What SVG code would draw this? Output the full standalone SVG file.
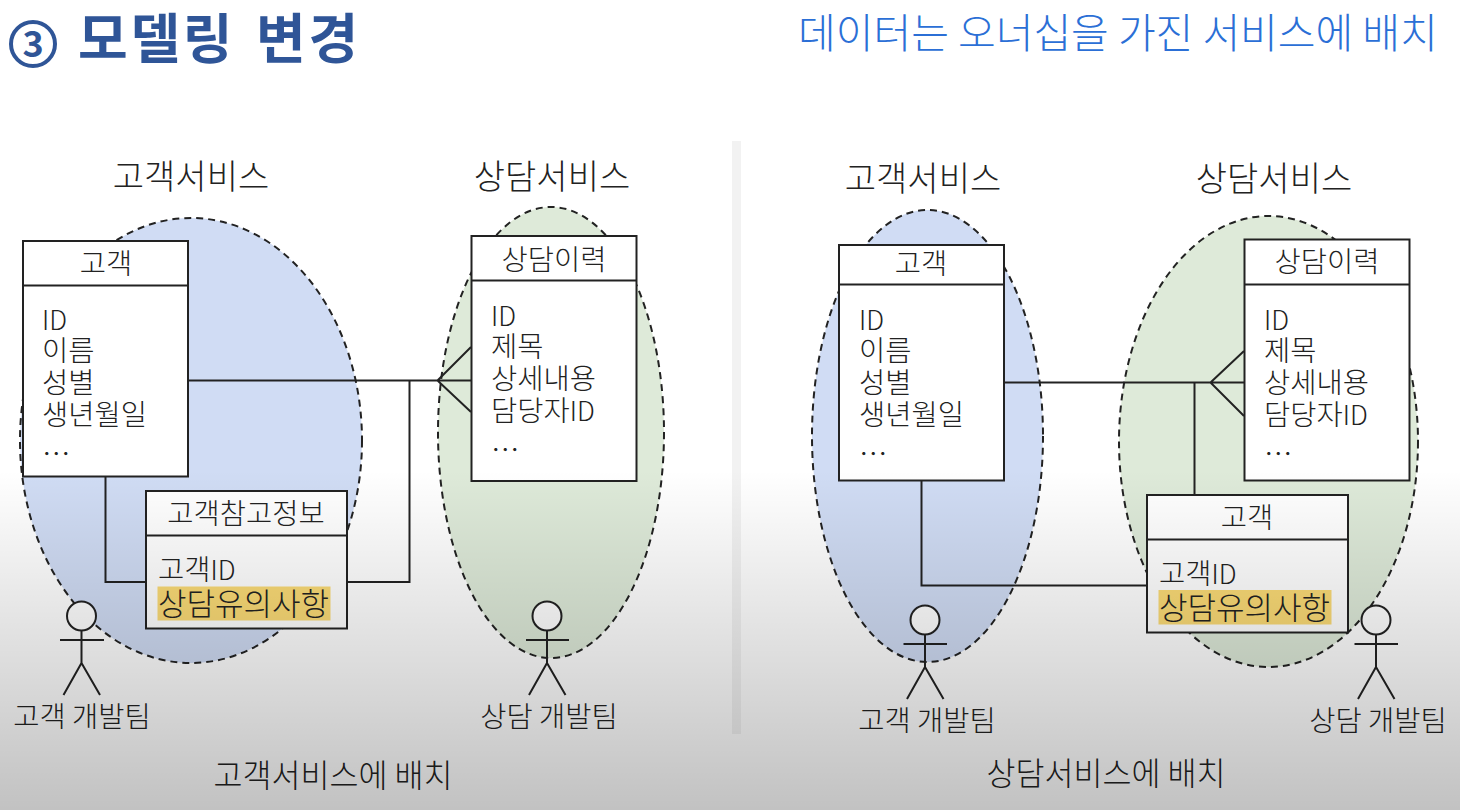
<svg xmlns="http://www.w3.org/2000/svg" width="1460" height="810" viewBox="0 0 1460 810">
<defs>
<linearGradient id="shade" x1="0" y1="0" x2="0" y2="1"><stop offset="0" stop-color="#000" stop-opacity="0"/><stop offset="1" stop-color="#000" stop-opacity="0.24"/></linearGradient>
</defs>
<style>
text{font-family:"Noto Sans CJK KR","Noto Sans",sans-serif;fill:#222;font-weight:300}
.svc{font-size:34px;text-anchor:middle}
.hd{font-size:28.500px;text-anchor:middle}
.it{font-size:28.500px}
.id{font-size:26.500px}
.big{font-size:31px}
.cap{font-size:28.500px;text-anchor:middle}
.cap2{font-size:31.500px;text-anchor:middle}
.box{fill:#fff;stroke:#222;stroke-width:2}
.ln{fill:none;stroke:#222;stroke-width:2}
.blue{fill:#d0dcf4;stroke:#222;stroke-width:2;stroke-dasharray:7 5}
.green{fill:#deead9;stroke:#222;stroke-width:2;stroke-dasharray:7 5}
.hl{fill:#fbdb76}
.head{fill:#fff;stroke:#222;stroke-width:2}
</style>
<rect width="1460" height="810" fill="#fff"/>
<rect x="732" y="141" width="9" height="593" fill="#f2f2f2"/>
<g id="title">
<circle cx="33" cy="44" r="22" fill="none" stroke="#2f5597" stroke-width="4"/>
<text x="33" y="57" text-anchor="middle" style="font-size:36px;font-weight:700;fill:#2f5597">3</text>
<text x="78" y="59" style="font-size:54px;font-weight:700;fill:#2f5597;letter-spacing:2.700px;word-spacing:6px">모델링 변경</text>
<text x="798" y="48" style="font-size:41px;font-weight:300;fill:#2b6fd6">데이터는 오너십을 가진 서비스에 배치</text>
</g>
<g id="service-blue-left"><ellipse class="blue" cx="191" cy="440.500" rx="171" ry="222.500"/><text class="svc" x="191" y="189">고객서비스</text></g>
<g id="service-green-left"><ellipse class="green" cx="551" cy="432.500" rx="113" ry="225.500"/><text class="svc" x="552" y="189">상담서비스</text></g>
<g id="service-blue-right"><ellipse class="blue" cx="927.500" cy="436" rx="115.500" ry="226"/><text class="svc" x="923" y="191">고객서비스</text></g>
<g id="service-green-right"><ellipse class="green" cx="1268.500" cy="441.500" rx="149.500" ry="225.500"/><text class="svc" x="1274" y="191">상담서비스</text></g>
<g id="connectors">
<path class="ln" d="M188 380.500H486M437.500 380.500L471 347M437.500 380.500L471 412M409.500 380.500V582H347M105.500 476V582H146"/>
<path class="ln" d="M1004 382.500H1244M1210.500 382.500L1244 351M1210.500 382.500L1244 416M1194.500 382.500V495M921.500 480V585.500H1147"/>
</g>
<g id="entity-customer-left"><rect class="box" x="23" y="241" width="165" height="235.500"/><path class="ln" d="M23 285.500H188"/><text class="hd" x="106" y="274">고객</text><text class="it" x="42" y="330"><tspan class="id">ID</tspan></text><text class="it" x="42" y="361">이름</text><text class="it" x="42" y="393">성별</text><text class="it" x="42" y="425">생년월일</text><text class="it" x="42" y="465">…</text></g>
<g id="entity-history-left"><rect class="box" x="471.500" y="236" width="165" height="245"/><path class="ln" d="M471.500 280.500H636.500"/><text class="hd" x="554" y="270">상담이력</text><text class="it" x="491" y="326"><tspan class="id">ID</tspan></text><text class="it" x="491" y="357">제목</text><text class="it" x="491" y="389">상세내용</text><text class="it" x="491" y="421">담당자<tspan class="id">ID</tspan></text><text class="it" x="491" y="461">…</text></g>
<g id="entity-note-left"><rect class="box" x="146" y="491" width="201" height="137.500"/><path class="ln" d="M146 535.500H347"/><rect class="hl" x="157.500" y="586.500" width="173" height="34"/><text class="hd" x="246" y="524">고객참고정보</text><text class="it" x="158" y="580">고객<tspan class="id">ID</tspan></text><text class="big" x="158" y="615">상담유의사항</text></g>
<g id="entity-customer-right"><rect class="box" x="839" y="245" width="165" height="235.500"/><path class="ln" d="M839 284.500H1004"/><text class="hd" x="921" y="274">고객</text><text class="it" x="859" y="330"><tspan class="id">ID</tspan></text><text class="it" x="859" y="361">이름</text><text class="it" x="859" y="393">성별</text><text class="it" x="859" y="425">생년월일</text><text class="it" x="859" y="465">…</text></g>
<g id="entity-history-right"><rect class="box" x="1244.500" y="239.500" width="165" height="241"/><path class="ln" d="M1244.500 284.500H1409.500"/><text class="hd" x="1327" y="272">상담이력</text><text class="it" x="1264" y="330"><tspan class="id">ID</tspan></text><text class="it" x="1264" y="361">제목</text><text class="it" x="1264" y="393">상세내용</text><text class="it" x="1264" y="425">담당자<tspan class="id">ID</tspan></text><text class="it" x="1264" y="465">…</text></g>
<g id="entity-customer-copy-right"><rect class="box" x="1147" y="495" width="201" height="137.500"/><path class="ln" d="M1147 539.500H1348"/><rect class="hl" x="1158.500" y="590" width="173" height="34.500"/><text class="hd" x="1247" y="528">고객</text><text class="it" x="1159" y="584">고객<tspan class="id">ID</tspan></text><text class="big" x="1159" y="619">상담유의사항</text></g>
<g id="actor-customer-left"><ellipse class="head" cx="81.500" cy="616" rx="14.500" ry="14.500"/><path class="ln" d="M60 640H104M81.500 630.500V663M81.500 663L63.500 695M81.500 663L100 695"/><text class="cap" x="82" y="727">고객 개발팀</text></g>
<g id="actor-history-left"><ellipse class="head" cx="547" cy="616" rx="14.500" ry="14.500"/><path class="ln" d="M526 640H569M547 630.500V663M547 663L529 695M547 663L565.500 695"/><text class="cap" x="549" y="727">상담 개발팀</text></g>
<g id="actor-customer-right"><ellipse class="head" cx="925" cy="620" rx="14.500" ry="14.500"/><path class="ln" d="M903.500 644H947M925 634.500V667M925 667L907 699M925 667L943.500 699"/><text class="cap" x="927" y="731">고객 개발팀</text></g>
<g id="actor-history-right"><ellipse class="head" cx="1376" cy="620" rx="14.500" ry="14.500"/><path class="ln" d="M1354.500 644H1398M1376 634.500V667M1376 667L1358 699M1376 667L1394.500 699"/><text class="cap" x="1378" y="731">상담 개발팀</text></g>
<g id="captions"><text class="cap2" x="333" y="787">고객서비스에 배치</text><text class="cap2" x="1106" y="785">상담서비스에 배치</text></g>
<rect x="0" y="470" width="1460" height="340" fill="url(#shade)"/>
</svg>
